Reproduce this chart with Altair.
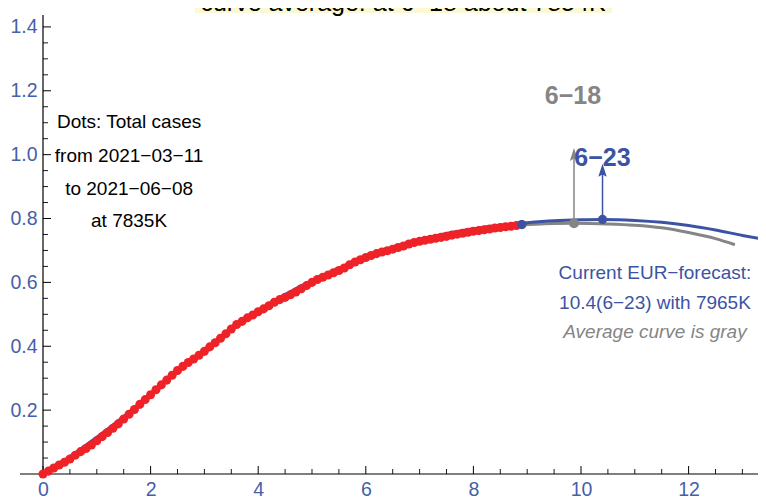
import altair as alt
import pandas as pd

FONT = "Liberation Sans"
BLUE = "#3c53a4"
LBLUE = "#4560aa"
GRAY = "#858585"
RED = "#ee2227"

# ---- data -----------------------------------------------------------
dot_x = [round(i * 0.1, 1) for i in range(90)]  # one dot per day, 2021-03-11 .. 2021-06-08
dot_y = [
    0.000, 0.009, 0.019, 0.028, 0.037, 0.047, 0.059, 0.070, 0.080, 0.091,
    0.104, 0.117, 0.130, 0.143, 0.157, 0.172, 0.187, 0.202, 0.218, 0.233,
    0.248, 0.264, 0.279, 0.294, 0.309, 0.324, 0.337, 0.349, 0.360, 0.372,
    0.384, 0.398, 0.411, 0.425, 0.439, 0.454, 0.468, 0.478, 0.489, 0.498,
    0.508, 0.517, 0.527, 0.538, 0.546, 0.553, 0.561, 0.570, 0.580, 0.590,
    0.600, 0.609, 0.616, 0.623, 0.630, 0.637, 0.645, 0.655, 0.664, 0.671,
    0.678, 0.684, 0.690, 0.695, 0.699, 0.704, 0.709, 0.714, 0.720, 0.725,
    0.729, 0.732, 0.735, 0.738, 0.741, 0.744, 0.748, 0.751, 0.754, 0.757,
    0.760, 0.762, 0.765, 0.767, 0.770, 0.772, 0.774, 0.776, 0.778, 0.781,
]

blue_x = [0, 0.5, 1, 1.5, 2, 2.5, 3, 3.5, 4, 4.5, 5, 5.5, 6, 6.5, 7, 7.5, 8,
          8.5, 9, 9.5, 10, 10.4, 11, 11.5, 12, 12.5, 13, 13.36]
blue_y = [0, 0.055, 0.115, 0.180, 0.250, 0.322, 0.390, 0.455, 0.512, 0.562,
          0.606, 0.645, 0.680, 0.710, 0.734, 0.753, 0.768, 0.779, 0.787, 0.793,
          0.796, 0.797, 0.794, 0.788, 0.778, 0.764, 0.747, 0.736]

gray_x = [7.5, 8, 8.5, 8.9, 9.5, 9.87, 10.5, 11, 11.5, 12, 12.5, 12.86]
gray_y = [0.744, 0.760, 0.772, 0.779, 0.784, 0.785, 0.783, 0.779, 0.771, 0.756, 0.737, 0.718]

# key points: last observed, average-curve peak (6-18), forecast peak (6-23)
last_pt = (8.9, 0.781)
gray_pt = (9.87, 0.785)
blue_pt = (10.4, 0.797)
gray_tip = 1.021
blue_tip = 0.971

x_major = [0, 2, 4, 6, 8, 10, 12]
x_minor = [0.5, 1, 1.5, 2.5, 3, 3.5, 4.5, 5, 5.5, 6.5, 7, 7.5, 8.5, 9, 9.5,
           10.5, 11, 11.5, 12.5, 13]
y_major = [0.2, 0.4, 0.6, 0.8, 1.0, 1.2, 1.4]
y_minor = [0.05, 0.1, 0.15, 0.25, 0.3, 0.35, 0.45, 0.5, 0.55, 0.65, 0.7, 0.75,
           0.85, 0.9, 0.95, 1.05, 1.1, 1.15, 1.25, 1.3, 1.35]

left_lines = ["Dots: Total cases", "from 2021\u221203\u221211", "to 2021\u221206\u221208", "at 7835K"]
left_y = [1.1025, 0.9965, 0.8925, 0.7925]
left_xc = 1.6

right_lines = ["Current EUR\u2212forecast:", "10.4(6\u221223) with 7965K"]
right_y = [0.6295, 0.5355]
right_xc = 11.375
gray_note = "Average curve is gray"
gray_note_y = 0.445

title_text = "curve average: at 6\u221218 about 7854K"

# ---- layout ---------------------------------------------------------
W, H = 715, 457
xs = alt.Scale(domain=[0, 13.29], nice=False, zero=False)
ys = alt.Scale(domain=[0, 1.431], nice=False, zero=False)
x_axis = alt.Axis(values=x_major, domain=False, ticks=False, tickSize=0, grid=False,
                  labelFontSize=19.5, labelFont=FONT, labelColor=LBLUE, labelPadding=6,
                  title=None, format="d", labelFlush=False)
y_axis = alt.Axis(values=y_major, domain=False, ticks=False, tickSize=0, grid=False,
                  labelFontSize=19.5, labelFont=FONT, labelColor=LBLUE, labelPadding=6,
                  title=None, format=".1f")


def X(f="x"):
    return alt.X(f, type="quantitative", scale=xs, axis=x_axis)


def Y(f="y"):
    return alt.Y(f, type="quantitative", scale=ys, axis=y_axis)


dots_df = pd.DataFrame({"x": dot_x, "y": dot_y})
blue_df = pd.DataFrame({"x": blue_x, "y": blue_y})
gray_df = pd.DataFrame({"x": gray_x, "y": gray_y})

base = alt.Chart(dots_df)

# axes lines and ticks
xaxis_line = alt.Chart(pd.DataFrame({"a": [0]})).mark_rule(color="black", strokeWidth=1.2).encode(
    x=alt.value(-23), x2=alt.value(W + 20), y=alt.value(H))
yaxis_line = alt.Chart(pd.DataFrame({"a": [0]})).mark_rule(color="black", strokeWidth=1.2).encode(
    x=alt.value(0), y=alt.value(H + 1), y2=alt.value(-2))

xmaj = alt.Chart(pd.DataFrame({"x": x_major})).mark_rule(color="black", strokeWidth=1).encode(
    x=X(), y=alt.value(H), y2=alt.value(H - 8))
xmin = alt.Chart(pd.DataFrame({"x": x_minor})).mark_rule(color="black", strokeWidth=0.9).encode(
    x=X(), y=alt.value(H), y2=alt.value(H - 5))
ymaj = alt.Chart(pd.DataFrame({"y": y_major})).mark_rule(color="black", strokeWidth=1).encode(
    y=Y(), x=alt.value(0), x2=alt.value(8))
ymin = alt.Chart(pd.DataFrame({"y": y_minor})).mark_rule(color="black", strokeWidth=0.9).encode(
    y=Y(), x=alt.value(0), x2=alt.value(5))

gray_line = alt.Chart(gray_df).mark_line(color=GRAY, strokeWidth=3, interpolate="monotone").encode(
    x=X(), y=Y())
blue_line = alt.Chart(blue_df).mark_line(color=BLUE, strokeWidth=3, interpolate="monotone").encode(
    x=X(), y=Y())
dots = base.mark_circle(color=RED, size=82, opacity=1).encode(x=X(), y=Y())

pts_df = pd.DataFrame({"x": [last_pt[0], blue_pt[0]], "y": [last_pt[1], blue_pt[1]]})
blue_pts = alt.Chart(pts_df).mark_circle(color=BLUE, size=85, opacity=1).encode(x=X(), y=Y())
gray_ptm = alt.Chart(pd.DataFrame({"x": [gray_pt[0]], "y": [gray_pt[1]]})).mark_circle(
    color=GRAY, size=100, opacity=1).encode(x=X(), y=Y())

arrow_df = pd.DataFrame({
    "x": [gray_pt[0], blue_pt[0]],
    "y": [gray_pt[1], blue_pt[1]],
    "tip": [gray_tip - 0.015, blue_tip - 0.015],
    "top": [gray_tip, blue_tip],
    "c": [GRAY, BLUE],
})
shafts = alt.Chart(arrow_df).mark_rule(strokeWidth=1.5).encode(
    x=X(), y=Y(), y2="tip", color=alt.Color("c:N", scale=None))
ARROW = "M0,-1L0.55,0.7L0,0.4L-0.55,0.7Z"
heads = alt.Chart(arrow_df).mark_point(shape=ARROW, filled=True, size=234, opacity=1,
                                       yOffset=7.6, strokeWidth=0).encode(
    x=X(), y=Y("top"), color=alt.Color("c:N", scale=None))

lbl_df = pd.DataFrame({"x": [9.85, 10.4], "y": [1.1836, 0.9895],
                       "t": ["6\u221218", "6\u221223"], "c": [GRAY, BLUE]})
big_lbls = alt.Chart(lbl_df).mark_text(font=FONT, fontSize=25, fontWeight="bold",
                                       align="center", baseline="middle").encode(
    x=X(), y=Y(), text="t:N", color=alt.Color("c:N", scale=None))

left_df = pd.DataFrame({"x": [left_xc] * 4, "y": left_y, "t": left_lines})
left_txt = alt.Chart(left_df).mark_text(font=FONT, fontSize=19, color="black",
                                        align="center", baseline="middle").encode(
    x=X(), y=Y(), text="t:N")

right_df = pd.DataFrame({"x": [right_xc] * 2, "y": right_y, "t": right_lines})
right_txt = alt.Chart(right_df).mark_text(font=FONT, fontSize=19, color=BLUE,
                                          align="center", baseline="middle").encode(
    x=X(), y=Y(), text="t:N")
note_txt = alt.Chart(pd.DataFrame({"x": [right_xc], "y": [gray_note_y], "t": [gray_note]})).mark_text(
    font=FONT, fontSize=19, fontStyle="italic", color=GRAY, align="center", baseline="middle").encode(
    x=X(), y=Y(), text="t:N")

title_box = alt.Chart(pd.DataFrame({"a": [0]})).mark_rect(color="#fbf9d3").encode(
    x=alt.value(152), x2=alt.value(569), y=alt.value(-40), y2=alt.value(-4))
title_txt = alt.Chart(pd.DataFrame({"t": [title_text]})).mark_text(
    font=FONT, fontSize=25, color="black", align="center", baseline="alphabetic").encode(
    x=alt.value(360), y=alt.value(-6), text="t:N")

chart = alt.layer(
    title_box, title_txt,
    xaxis_line, yaxis_line, xmaj, xmin, ymaj, ymin,
    gray_line, blue_line, dots, blue_pts, gray_ptm, shafts, heads,
    big_lbls, left_txt, right_txt, note_txt,
).properties(
    width=W, height=H,
    autosize=alt.AutoSizeParams(type="none"),
    padding={"left": 35, "top": 9, "right": 0, "bottom": 24},
    background="white",
).configure_view(strokeWidth=0)

chart.save("out.html", embed_options={"renderer": "svg", "actions": False})
